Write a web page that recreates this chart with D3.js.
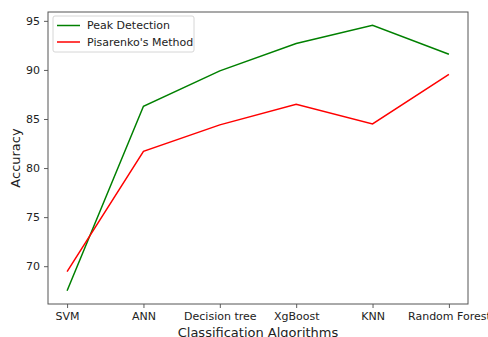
<!DOCTYPE html>
<html lang="en">
<head>
    <meta charset="UTF-8">
    <title>Classification Accuracy</title>
    <script src="https://d3js.org/d3.v7.min.js"></script>
    <style>
        body { margin: 0; background: #fff; }
        text { font-family: "DejaVu Sans", sans-serif; fill: #222; }
    </style>
</head>
<body>
    <svg width="488" height="337"></svg>

    <script>
        // data
        const algorithms = ["SVM", "ANN", "Decision tree", "XgBoost", "KNN", "Random Forest"];
        const peakDetection = [67.5, 86.3, 89.9, 92.7, 94.55, 91.6];
        const pisarenko = [69.45, 81.7, 84.4, 86.5, 84.5, 89.55];
        const yTicks = [70, 75, 80, 85, 90, 95];

        const series = [
            { name: "Peak Detection", values: peakDetection, color: "#008000" },
            { name: "Pisarenko's Method", values: pisarenko, color: "#ff0000" }
        ];

        const width = 488, height = 337;
        const margin = { top: 12, right: 20, bottom: 33, left: 48 };
        const svg = d3.select("svg");

        // matplotlib style 5% padding
        const x = d3.scaleLinear()
            .domain([-0.25, algorithms.length - 1 + 0.25])
            .range([margin.left, width - margin.right]);

        const allVals = peakDetection.concat(pisarenko);
        const lo = d3.min(allVals), hi = d3.max(allVals), pad = (hi - lo) * 0.05;
        const y = d3.scaleLinear()
            .domain([lo - pad, hi + pad])
            .range([height - margin.bottom, margin.top]);

        // axes
        const xAxis = d3.axisBottom(x)
            .tickValues(d3.range(algorithms.length))
            .tickFormat(i => algorithms[i])
            .tickSize(4).tickPadding(4);
        const yAxis = d3.axisLeft(y)
            .tickValues(yTicks)
            .tickSize(4).tickPadding(4);

        const gx = svg.append("g")
            .attr("transform", `translate(0,${height - margin.bottom})`)
            .call(xAxis);
        const gy = svg.append("g")
            .attr("transform", `translate(${margin.left},0)`)
            .call(yAxis);
        [gx, gy].forEach(g => {
            g.select(".domain").remove();
            g.selectAll("line").attr("stroke", "#333").attr("stroke-width", 0.8);
            g.selectAll("text").attr("font-size", 11).style("fill", "#222");
        });

        // frame
        svg.append("rect")
            .attr("x", margin.left).attr("y", margin.top)
            .attr("width", width - margin.left - margin.right)
            .attr("height", height - margin.top - margin.bottom)
            .attr("fill", "none").attr("stroke", "#555").attr("stroke-width", 1);

        // lines
        const line = d3.line().x((d, i) => x(i)).y(d => y(d));
        svg.append("g").selectAll("path")
            .data(series)
            .join("path")
            .attr("d", d => line(d.values))
            .attr("fill", "none")
            .attr("stroke", d => d.color)
            .attr("stroke-width", 1.5);

        // axis labels
        svg.append("text")
            .attr("x", (margin.left + width - margin.right) / 2)
            .attr("y", 337)
            .attr("text-anchor", "middle")
            .attr("font-size", 13)
            .text("Classification Algorithms");
        svg.append("text")
            .attr("transform", `translate(20,${(margin.top + height - margin.bottom) / 2}) rotate(-90)`)
            .attr("text-anchor", "middle")
            .attr("font-size", 13)
            .text("Accuracy");

        // legend
        const legend = svg.append("g").attr("transform", "translate(53,16)");
        legend.append("rect")
            .attr("width", 141).attr("height", 36).attr("rx", 2)
            .attr("fill", "#fff").attr("fill-opacity", 0.8)
            .attr("stroke", "#d6d6d6");
        const item = legend.selectAll("g.item")
            .data(series)
            .join("g")
            .attr("class", "item")
            .attr("transform", (d, i) => `translate(0,${9.5 + i * 16.5})`);
        item.append("line")
            .attr("x1", 4).attr("x2", 27)
            .attr("stroke", d => d.color).attr("stroke-width", 1.5);
        item.append("text")
            .attr("x", 34).attr("dy", "0.35em")
            .attr("font-size", 11)
            .text(d => d.name);
    </script>
</body>
</html>
